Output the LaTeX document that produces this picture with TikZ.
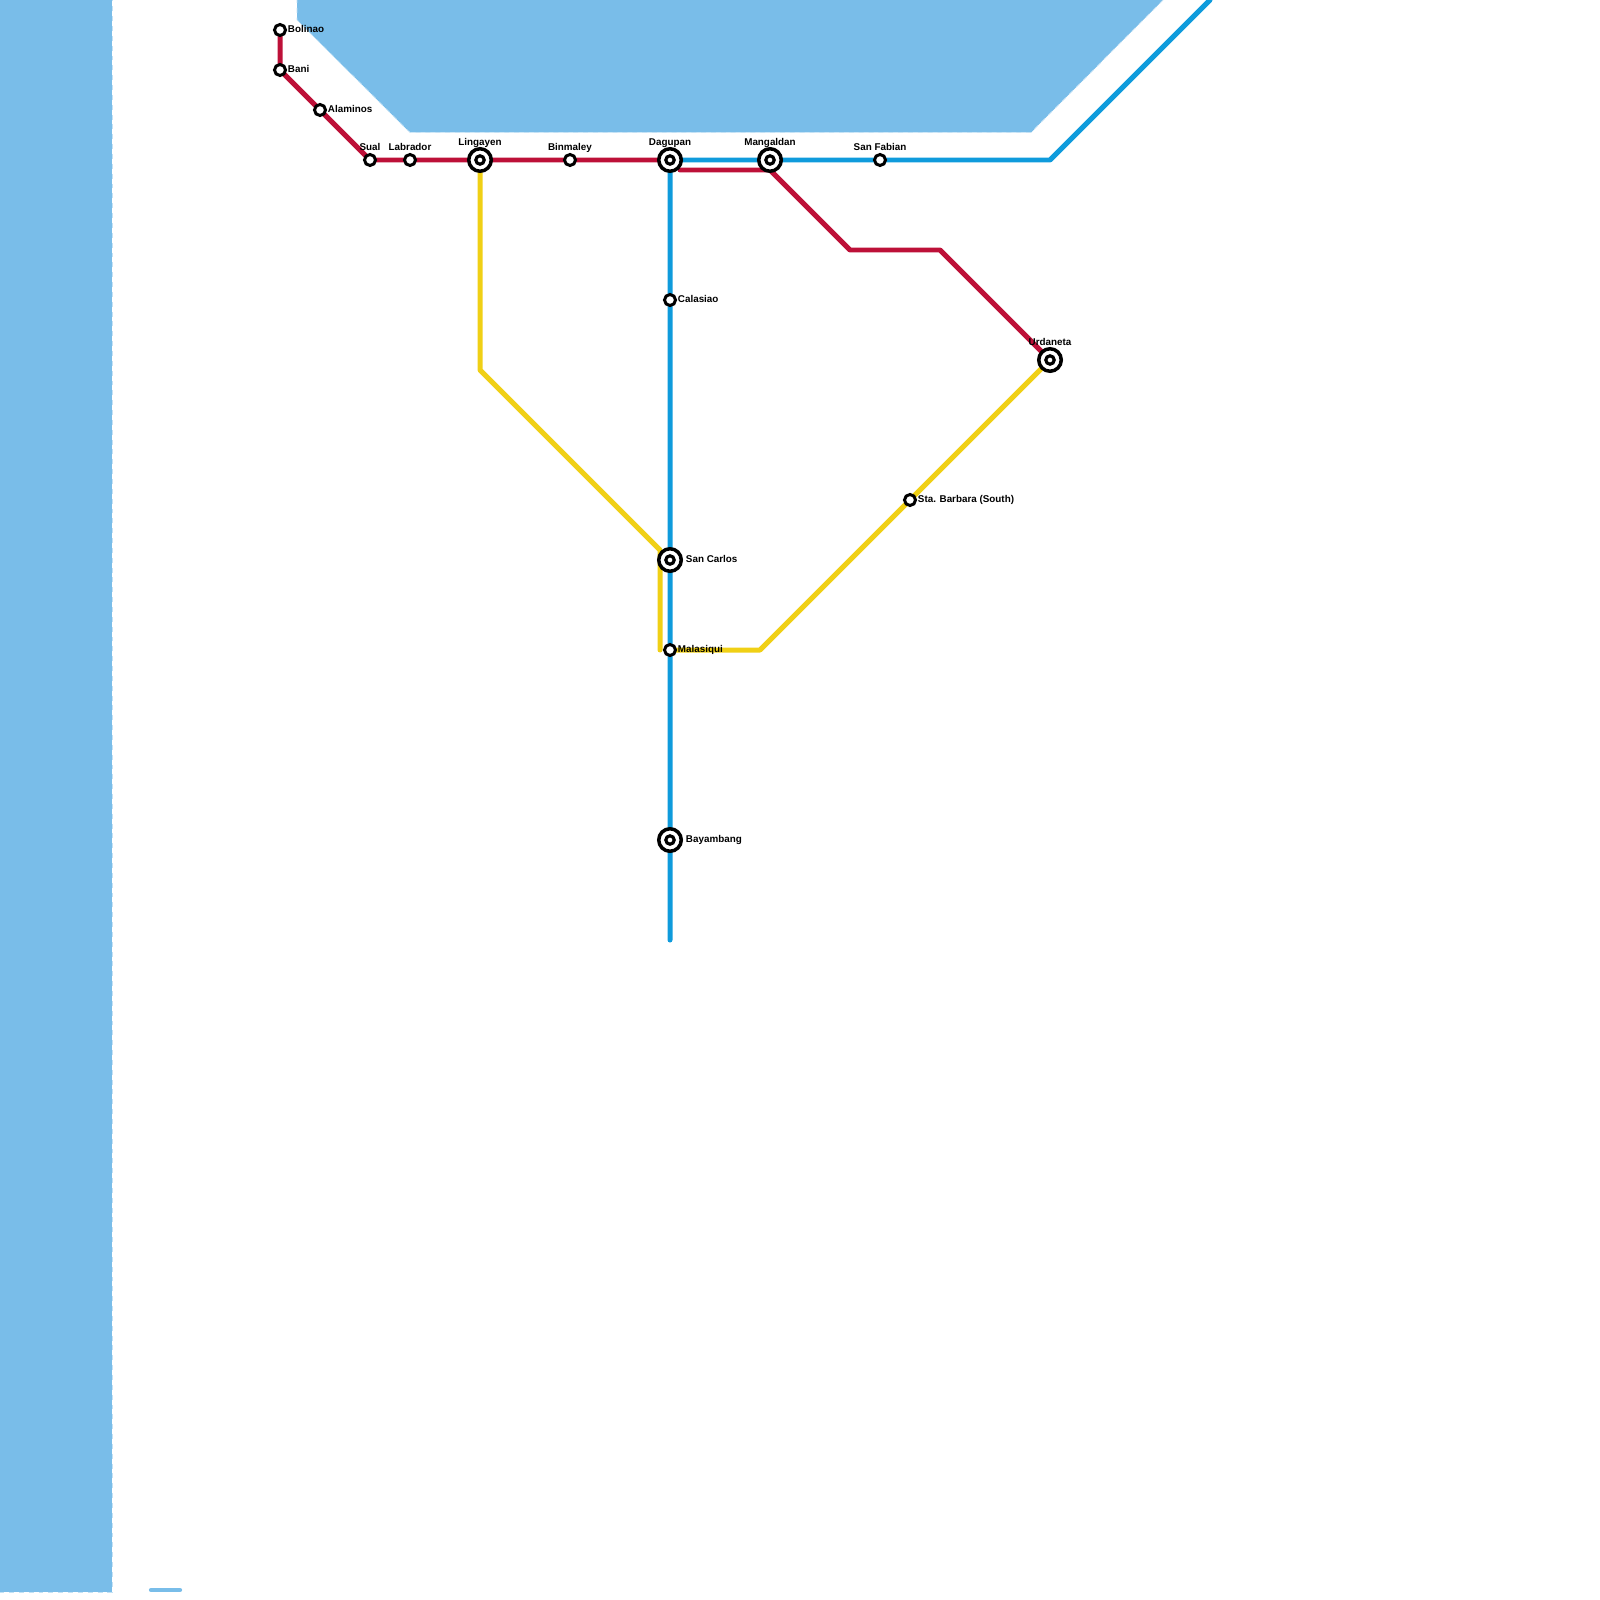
\documentclass[tikz,border=0pt]{standalone}
\usepackage{fontspec}
\setmainfont{Liberation Sans}
\usetikzlibrary{backgrounds}
\definecolor{waterblue}{HTML}{79BDE9}
\definecolor{lineblue}{HTML}{0F9BDC}
\definecolor{linered}{HTML}{BD1038}
\definecolor{lineyellow}{HTML}{F0D015}

\begin{document}
\begin{tikzpicture}[x=0.01cm, y=-0.01cm,
    every label/.style={font=\fontsize{2.8pt}{3pt}\selectfont\bfseries, inner sep=0pt, text=black, text height=2.05pt, text depth=0pt},
    stop/.style={circle, draw=black, fill=white, line width=0.85pt, minimum size=0.11cm, inner sep=0pt},
    hub/.style={circle, draw=black, fill=white, line width=1pt, minimum size=0.225cm, inner sep=0pt,
        path picture={\draw[black, line width=0.9pt] (path picture bounding box.center) circle (0.042cm);}},
    route/.style={line width=1.42pt, line join=round, line cap=round},
    water/.style={fill=waterblue, draw=white!55!waterblue, line width=0.2pt, dash pattern=on 1.4pt off 1.4pt}]
    \useasboundingbox (0,0) rectangle (1600,1600);

    % Stations on the red line
    \node[stop, label={[xshift=0.0025cm, yshift=0.013cm]right:Bolinao}] (bolinao) at (280,30) {};
    \node[stop, label={[xshift=0.0025cm, yshift=0.013cm]right:Bani}] (bani) at (280,70) {};
    \node[stop, label={[xshift=0.0025cm, yshift=0.013cm]right:Alaminos}] (alaminos) at (320,110) {};
    \node[stop, label={[yshift=0.0225cm]above:Sual}] (sual) at (370,160) {};
    \node[stop, label={[yshift=0.0225cm]above:Labrador}] (labrador) at (410,160) {};
    \node[hub, label={[yshift=0.01cm]above:Lingayen}] (lingayen) at (480,160) {};
    \node[stop, label={[yshift=0.0225cm]above:Binmaley}] (binmaley) at (570,160) {};
    \node[hub, label={[yshift=0.01cm]above:Dagupan}] (dagupan) at (670,160) {};
    \node[hub, label={[yshift=0.01cm]above:Mangaldan}] (mangaldan) at (770,160) {};
    \node[stop, label={[yshift=0.0225cm]above:San Fabian}] (sanfabian) at (880,160) {};
    \node[hub, label={[yshift=0.01cm]above:Urdaneta}] (urdaneta) at (1050,360) {};

    % Stations on the blue line
    \node[stop, label={[xshift=0.0025cm, yshift=0.013cm]right:Calasiao}] (calasiao) at (670,300) {};
    \node[hub, label={[xshift=0.0225cm, yshift=0.013cm]right:San Carlos}] (sancarlos) at (670,560) {};
    \node[stop, label={[xshift=0.0025cm, yshift=0.013cm]right:Malasiqui}] (malasiqui) at (670,650) {};
    \node[hub, label={[xshift=0.0225cm, yshift=0.013cm]right:Bayambang}] (bayambang) at (670,840) {};

    % Station on the yellow line
    \node[stop, label={[xshift=0.0025cm, yshift=0.013cm]right:Sta. Barbara (South)}] (stabarbara) at (910,500) {};

    % Bends and free ends
    \coordinate (bluetop) at (1210,0);
    \coordinate (blueturn) at (1050,160);
    \coordinate (blueend) at (670,940);
    \coordinate (redstart) at (680,170);
    \coordinate (redhub) at (770,170);
    \coordinate (redturna) at (850,250);
    \coordinate (redturnb) at (940,250);
    \coordinate (yellowturna) at (480,370);
    \coordinate (yellowturnb) at (660,550);
    \coordinate (yellowturnc) at (660,650);
    \coordinate (yellowturnd) at (760,650);

    \begin{scope}[on background layer]
        % Water
        \path[water] (-2,-2) rectangle (112,1592);
        \path[water] (297,-2) -- (297,20) -- (410,132.5) -- (1031,132.5) -- (1165,-2) -- cycle;
        \draw[waterblue, line width=1.2pt, line cap=round] (151,1590) -- (180,1590);

        % Blue line
        \draw[route, lineblue] (bluetop) -- (blueturn) -- (dagupan.center) -- (blueend);

        % Red line
        \draw[route, linered] (bolinao.center) -- (bani.center) -- (sual.center) -- (dagupan.center);
        \draw[route, linered] (redstart) -- (redhub) -- (redturna) -- (redturnb) -- (urdaneta.center);

        % Yellow line
        \draw[route, lineyellow] (lingayen.center) -- (yellowturna) -- (yellowturnb) -- (yellowturnc);
        \draw[route, lineyellow] (malasiqui.center) -- (yellowturnd) -- (urdaneta.center);
    \end{scope}
\end{tikzpicture}
\end{document}
